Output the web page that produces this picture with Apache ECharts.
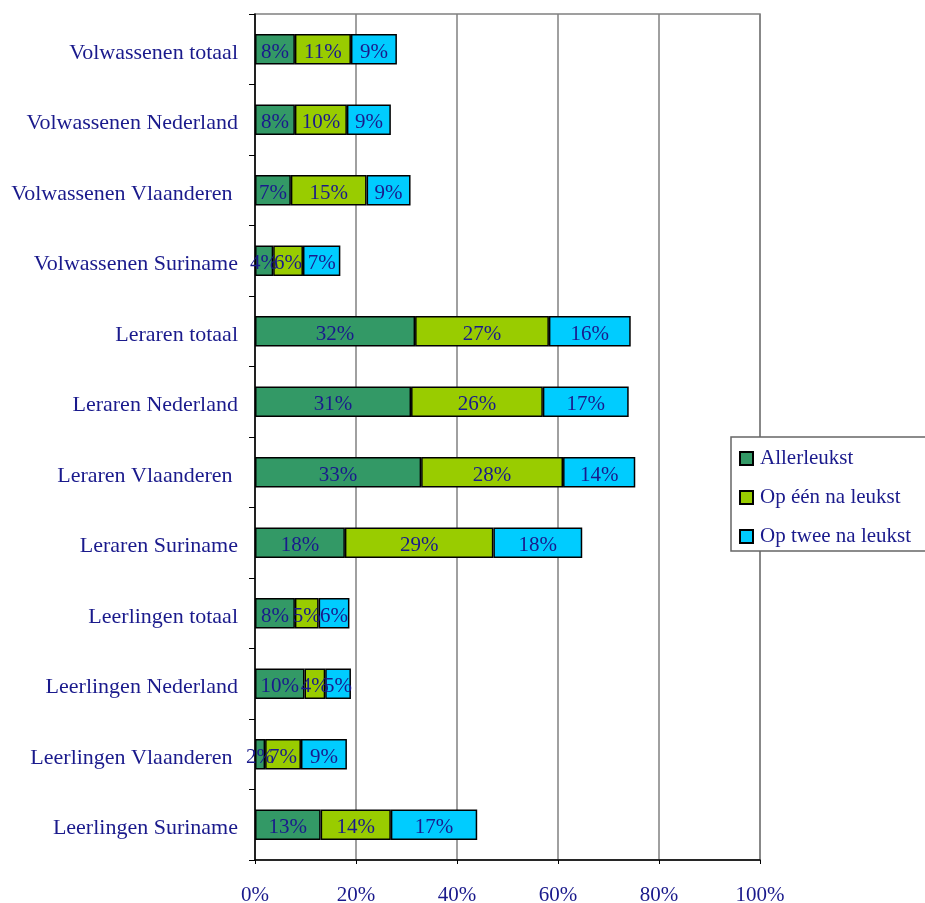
<!DOCTYPE html>
<html>
<head>
<meta charset="utf-8">
<script src="https://cdn.jsdelivr.net/npm/echarts@6/dist/echarts.min.js"></script>
<style>
  html, body { margin: 0; padding: 0; background: #fff; }
  #chart { width: 925px; height: 903px; }
</style>
</head>
<body>
<div id="chart"></div>
<script>
// categorieen, van boven naar onder
var categories = [
    'Volwassenen totaal', 'Volwassenen Nederland', 'Volwassenen Vlaanderen ', 'Volwassenen Suriname',
    'Leraren totaal', 'Leraren Nederland', 'Leraren Vlaanderen ', 'Leraren Suriname',
    'Leerlingen totaal', 'Leerlingen Nederland', 'Leerlingen Vlaanderen ', 'Leerlingen Suriname'
];
var seriesNames = ['Allerleukst', 'Op één na leukst', 'Op twee na leukst'];
var allerleukst = [7.9, 7.9, 7.1, 3.6, 31.7, 30.9, 32.9, 17.8, 7.9, 9.8, 2.0, 13.0];
var opEen       = [11.1, 10.3, 15.0, 5.9, 26.5, 26.1, 28.1, 29.4, 4.7, 4.1, 7.1, 13.9];
var opTwee      = [9.1, 8.7, 8.7, 7.4, 16.2, 17.0, 14.3, 17.6, 6.1, 5.1, 9.1, 17.1];
var xTicks = [0, 20, 40, 60, 80, 100];

var textColor = '#1a1a8c';
var fontName = 'Liberation Serif';
var colors = ['#339966', '#99cc00', '#00ccff'];

var myChart = echarts.init(document.getElementById('chart'));

function makeSeries(name, data, color) {
    return {
        name: name,
        type: 'bar',
        stack: 'totaal',
        barCategoryGap: '57%',
        data: data,
        itemStyle: { color: color, borderColor: '#000', borderWidth: 1.5 },
        label: {
            show: true,
            position: 'inside',
            offset: [0, 3],
            color: textColor,
            fontFamily: fontName,
            fontSize: 21,
            formatter: function (p) { return Math.round(p.value) + '%'; }
        }
    };
}

var option = {
    animation: false,
    textStyle: { fontFamily: fontName },
    grid: {
        left: 255, right: 165, top: 14, bottom: 43,
        outerBoundsMode: 'none',
        containLabel: false,
        show: true, borderColor: '#808080', borderWidth: 1.5
    },
    legend: {
        orient: 'vertical',
        left: 731, top: 437,
        padding: [9, 15, 2, 8],
        itemGap: 14,
        itemWidth: 13, itemHeight: 13,
        icon: 'rect',
        backgroundColor: '#fff',
        borderColor: '#666', borderWidth: 1.5,
        textStyle: {
            color: textColor, fontFamily: fontName, fontSize: 21, lineHeight: 22,
            padding: [3, 0, 0, 2]
        },
        data: seriesNames
    },
    xAxis: {
        type: 'value',
        min: xTicks[0], max: xTicks[xTicks.length - 1], interval: 20,
        axisLine: { show: true, lineStyle: { color: '#000', width: 1.5 } },
        axisTick: { show: true, length: 4, lineStyle: { color: '#000' } },
        splitLine: { show: true, lineStyle: { color: '#808080', width: 1.5 } },
        axisLabel: {
            color: textColor, fontFamily: fontName, fontSize: 21, margin: 25,
            formatter: function (v) { return v + '%'; }
        }
    },
    yAxis: {
        type: 'category',
        inverse: true,
        data: categories,
        axisLine: { show: true, lineStyle: { color: '#000', width: 1.5 } },
        axisTick: { show: true, length: 6, lineStyle: { color: '#000' } },
        axisLabel: {
            color: textColor, fontFamily: fontName, fontSize: 22, margin: 17,
            formatter: function (v) { return '{c|' + v + '}'; },
            rich: { c: { fontFamily: fontName, fontSize: 22, color: textColor, padding: [7, 0, 0, 0] } }
        }
    },
    series: [
        makeSeries(seriesNames[0], allerleukst, colors[0]),
        makeSeries(seriesNames[1], opEen, colors[1]),
        makeSeries(seriesNames[2], opTwee, colors[2])
    ]
};

myChart.setOption(option);
</script>
</body>
</html>
